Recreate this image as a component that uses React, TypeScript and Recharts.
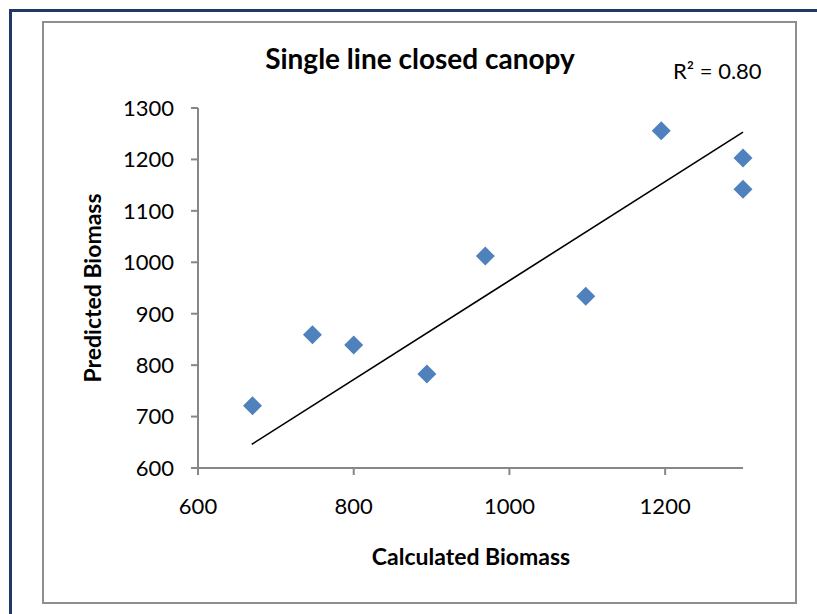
import React from "react";
import { ScatterChart, Scatter, XAxis, YAxis } from "recharts";

const calculatedBiomass = [670, 747, 800, 894, 969, 1098, 1195, 1300, 1300];
const predictedBiomass = [721, 859, 839, 783, 1012, 934, 1256, 1203, 1142];
const trendX = [669, 1300];
const trendY = [646, 1253];
const xTicks = [600, 800, 1000, 1200];
const yTicks = [600, 700, 800, 900, 1000, 1100, 1200, 1300];
const titleText = "Single line closed canopy";
const r2Text = "R\u00b2 = 0.80";
const xTitle = "Calculated Biomass";
const yTitle = "Predicted Biomass";

const points = calculatedBiomass.map((x, i) => ({ x, y: predictedBiomass[i] }));
const trend = trendX.map((x, i) => ({ x, y: trendY[i] }));

const FONT = "Lato, 'Open Sans', sans-serif";
const AXIS = "#878787";

const Diamond = (props: any) => {
  const { cx, cy } = props;
  if (cx == null || cy == null) return <g />;
  const r = 9.5;
  return (
    <polygon
      points={`${cx},${cy - r} ${cx + r},${cy} ${cx},${cy + r} ${cx - r},${cy}`}
      fill="#4F81BD"
    />
  );
};

const Nothing = () => <g />;

export default function App() {
  const yAxisWidth = 60;
  const xAxisHeight = 60;
  return (
    <div style={{ position: "absolute", left: 0, top: 0, width: 817, height: 614, background: "#fff", overflow: "hidden" }}>
      <div
        style={{
          position: "absolute",
          left: 9,
          top: 9,
          right: -10,
          bottom: -10,
          borderTop: "3px solid #1F3A60",
          borderLeft: "3px solid #1F3A60",
        }}
      />
      <div
        style={{
          position: "absolute",
          left: 42,
          top: 21,
          width: 751,
          height: 579,
          border: "2px solid #8E8E8E",
        }}
      />
      <div style={{ position: "absolute", left: 0, top: 0 }}>
        <ScatterChart
          width={817}
          height={614}
          margin={{ top: 108, right: 74, left: 198 - yAxisWidth, bottom: 146 - xAxisHeight }}
        >
          <XAxis
            type="number"
            dataKey="x"
            domain={[600, 1300]}
            ticks={xTicks}
            interval={0}
            height={xAxisHeight}
            stroke={AXIS}
            strokeWidth={2}
            tickSize={7}
            tickMargin={23}
            tick={{ fill: "#000", fontSize: 22, fontFamily: FONT }}
            tickLine={{ stroke: AXIS, strokeWidth: 2 }}
          />
          <YAxis
            type="number"
            dataKey="y"
            domain={[600, 1300]}
            ticks={yTicks}
            interval={0}
            width={yAxisWidth}
            stroke={AXIS}
            strokeWidth={2}
            tickSize={7}
            tickMargin={17}
            tick={{ fill: "#000", fontSize: 22, fontFamily: FONT }}
            tickLine={{ stroke: AXIS, strokeWidth: 2 }}
          />
          <Scatter
            data={trend}
            line={{ stroke: "#000", strokeWidth: 1.6 }}
            shape={Nothing}
            isAnimationActive={false}
            legendType="none"
          />
          <Scatter data={points} shape={Diamond} isAnimationActive={false} />
        </ScatterChart>
      </div>
      <svg width={817} height={614} style={{ position: "absolute", left: 0, top: 0, pointerEvents: "none" }}>
        <text x={420} y={69} textAnchor="middle" fontFamily={FONT} fontWeight="bold" fontSize={28} fill="#000">
          {titleText}
        </text>
        <text x={673} y={79} textAnchor="start" fontFamily={FONT} fontSize={22} fill="#000">
          {r2Text}
        </text>
        <text x={471} y={565} textAnchor="middle" fontFamily={FONT} fontWeight="bold" fontSize={23} fill="#000">
          {xTitle}
        </text>
        <text
          x={0}
          y={0}
          transform="translate(101,288) rotate(-90)"
          textAnchor="middle"
          fontFamily={FONT}
          fontWeight="bold"
          fontSize={23}
          fill="#000"
        >
          {yTitle}
        </text>
      </svg>
    </div>
  );
}
